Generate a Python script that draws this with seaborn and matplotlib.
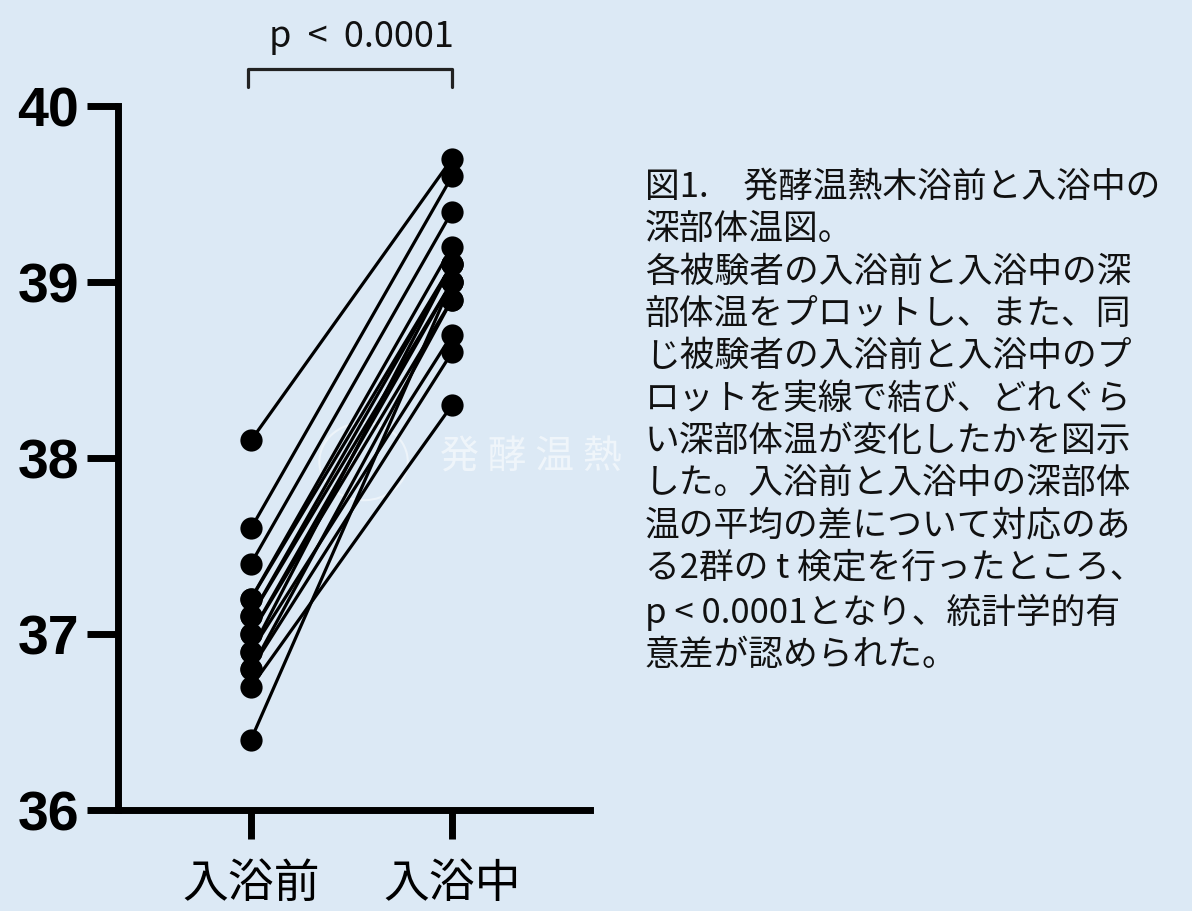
import matplotlib
matplotlib.use('Agg')
import matplotlib.pyplot as plt
import seaborn as sns
import pandas as pd
from matplotlib.patches import Circle

# paired core body temperatures, one entry per subject
before = [38.1, 37.6, 37.4, 37.2, 37.2, 37.1, 37.1, 37.0, 37.0, 36.9, 36.9, 36.8, 36.8, 36.7, 36.4]
during = [39.7, 39.6, 39.4, 39.2, 39.1, 39.0, 39.1, 38.9, 39.0, 39.1, 38.7, 38.6, 38.9, 38.3, 39.0]
groups = ['入浴前', '入浴中']
yticks = [36, 37, 38, 39, 40]
p_label = 'p  <  0.0001'
caption = ('図1.\u3000発酵温熱木浴前と入浴中の\n'
           '深部体温図。\n'
           '各被験者の入浴前と入浴中の深\n'
           '部体温をプロットし、また、同\n'
           'じ被験者の入浴前と入浴中のプ\n'
           'ロットを実線で結び、どれぐら\n'
           'い深部体温が変化したかを図示\n'
           'した。入浴前と入浴中の深部体\n'
           '温の平均の差について対応のあ\n'
           'る2群の t 検定を行ったところ、\n'
           'p < 0.0001となり、統計学的有\n'
           '意差が認められた。')

rows = []
for i, (b, d) in enumerate(zip(before, during)):
    rows.append({'subject': i, 'pos': 0, 'temp': b})
    rows.append({'subject': i, 'pos': 1, 'temp': d})
df = pd.DataFrame(rows)

bg = '#dce9f5'
sns.set_theme(style='ticks')
plt.rcParams['font.family'] = ['Noto Sans CJK JP', 'DejaVu Sans']

fig = plt.figure(figsize=(11.92, 9.12), dpi=100, facecolor=bg)
W, H = 1192, 912
ax = fig.add_axes([118 / W, 1 - 811 / H, (590 - 118) / W, (811 - 107) / H])
ax.set_facecolor(bg)

sns.lineplot(data=df, x='pos', y='temp', units='subject', estimator=None,
             color='black', lw=2.3, marker='o', markersize=16,
             markeredgewidth=0, ax=ax, legend=False)

ax.set_xlim(-133 / 201, 1 + 138 / 201)
ax.set_ylim(36, 40)
ax.set_xticks([0, 1])
ax.set_xticklabels(groups, fontsize=33)
ax.set_yticks(yticks)
ax.set_yticklabels([str(t) for t in yticks], fontsize=40, fontweight='bold',
                   family='Liberation Sans')
ax.set_xlabel('')
ax.set_ylabel('')
sns.despine(ax=ax)
for s in ['left', 'bottom']:
    ax.spines[s].set_linewidth(5)
    ax.spines[s].set_color('black')
ax.tick_params(axis='y', length=22, width=5, pad=6, colors='black')
ax.tick_params(axis='x', length=21, width=5, pad=14, colors='black')

# significance bracket
ax.plot([-0.015, -0.015, 1.0, 1.0], [40.108, 40.21, 40.21, 40.108],
        color='#222222', lw=2.3, clip_on=False)
ax.text(0.55, 40.34, p_label, ha='center', va='baseline', fontsize=26,
        color='#111111')

# faint watermark
ax.add_patch(Circle((0.56, 37.98), 0.22, transform=ax.transData, fill=False,
                    ec='white', lw=1.5, alpha=0.5, clip_on=False))
fig.text(440 / W, 1 - 458 / H, '発 酵 温 熱', fontsize=28, color='white',
         alpha=0.55, va='center', ha='left')

fig.text(645 / W, 1 - 170 / H, caption, fontsize=25, va='top', ha='left',
         color='#111111', linespacing=1.27)

fig.savefig('out.png', dpi=100, facecolor=bg)
